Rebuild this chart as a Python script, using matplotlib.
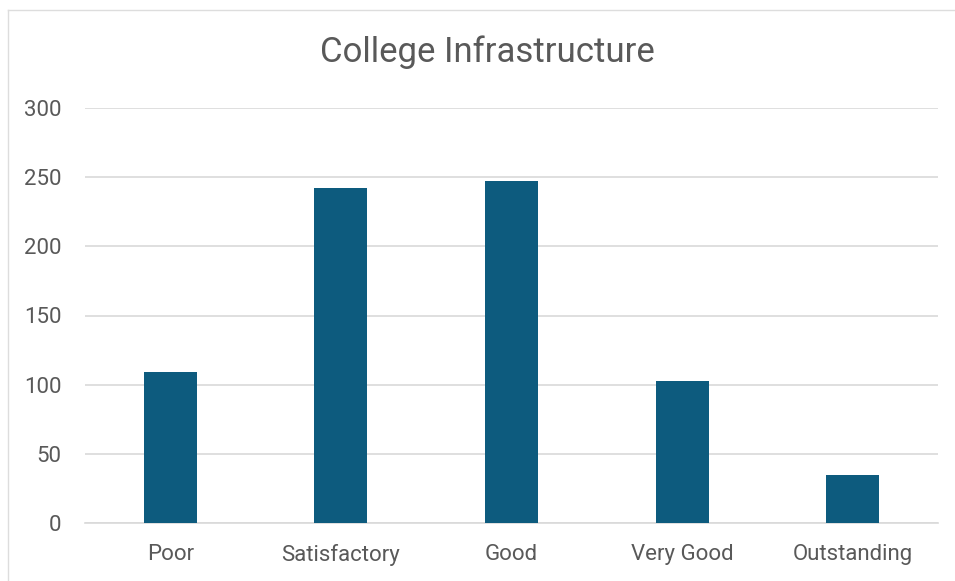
import matplotlib
matplotlib.use("Agg")
import matplotlib.pyplot as plt
from matplotlib.lines import Line2D

plt.rcParams["font.family"] = ["Roboto", "DejaVu Sans"]

categories = ["Poor", "Satisfactory", "Good", "Very Good", "Outstanding"]
counts = [109, 242, 247, 103, 35]
y_ticks = [0, 50, 100, 150, 200, 250, 300]

bar_color = "#0D5B7E"
text_color = "#595959"
grid_color = "#D9D9D9"

fig = plt.figure(figsize=(9.55, 5.81), dpi=100)
# frame edges of the cropped spreadsheet chart (only top and left are visible)
top_y = 1 - 9.5 / 581
left_x = 7.5 / 955
fig.add_artist(Line2D([left_x, 1], [top_y, top_y], transform=fig.transFigure,
                      color="#DDDDDD", linewidth=1))
fig.add_artist(Line2D([left_x, left_x], [0, top_y], transform=fig.transFigure,
                      color="#DDDDDD", linewidth=1))

ax = fig.add_axes([85 / 955, 1 - 523 / 581, (938 - 85) / 955, (523 - 108) / 581])
x = range(len(categories))
ax.bar(x, counts, width=0.31, color=bar_color, zorder=3)

ax.set_xlim(-0.5, len(categories) - 0.5)
ax.set_ylim(0, 300)
ax.set_yticks(y_ticks)
ax.set_xticks(list(x))
ax.set_xticklabels(categories)
ax.grid(axis="y", color=grid_color, linewidth=1.2, zorder=0)
for s in ["top", "right", "left"]:
    ax.spines[s].set_visible(False)
ax.spines["bottom"].set_color(grid_color)
ax.spines["bottom"].set_linewidth(1.2)
ax.tick_params(axis="both", length=0, labelsize=16, labelcolor=text_color)
ax.tick_params(axis="x", pad=15)
ax.tick_params(axis="y", pad=17)

fig.text(487 / 955, 1 - 52 / 581, "College Infrastructure", ha="center", va="center",
         fontsize=25, color=text_color)

plt.savefig("out.png", dpi=100)
